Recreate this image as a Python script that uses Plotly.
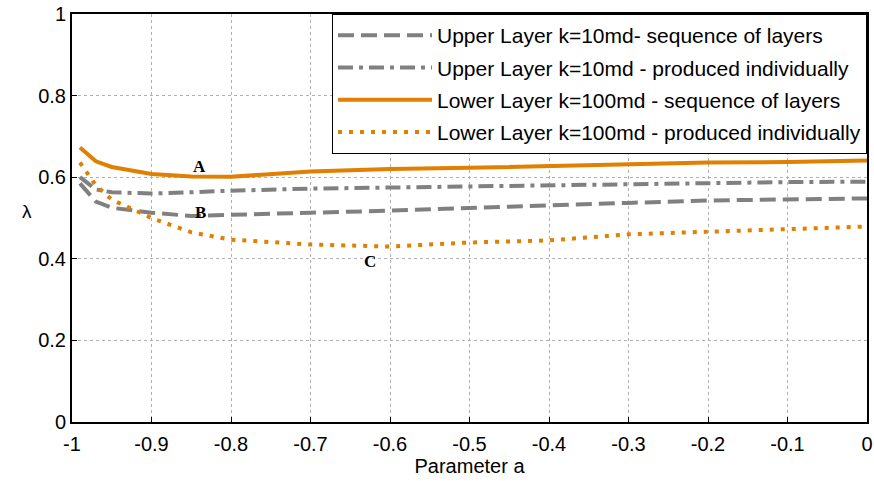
import plotly.graph_objects as go

x_vals = [-0.99, -0.97, -0.95, -0.9, -0.85, -0.8, -0.7, -0.6, -0.5, -0.4, -0.3, -0.2, -0.1, 0.0]
upper_seq = [0.585, 0.540, 0.525, 0.513, 0.505, 0.507, 0.513, 0.518, 0.525, 0.532, 0.537, 0.543, 0.546, 0.548]
upper_ind = [0.600, 0.570, 0.563, 0.560, 0.563, 0.567, 0.572, 0.575, 0.577, 0.580, 0.584, 0.587, 0.588, 0.589]
lower_seq = [0.673, 0.639, 0.625, 0.608, 0.602, 0.601, 0.614, 0.620, 0.623, 0.627, 0.632, 0.636, 0.637, 0.641]
lower_ind = [0.636, 0.580, 0.545, 0.500, 0.465, 0.447, 0.435, 0.430, 0.440, 0.445, 0.460, 0.467, 0.474, 0.479]

names = [
    "Upper Layer k=10md- sequence of layers",
    "Upper Layer k=10md - produced individually",
    "Lower Layer k=100md - sequence of layers",
    "Lower Layer k=100md - produced individually",
]
x_ticks = [-1, -0.9, -0.8, -0.7, -0.6, -0.5, -0.4, -0.3, -0.2, -0.1, 0]
x_tick_text = ["-1", "-0.9", "-0.8", "-0.7", "-0.6", "-0.5", "-0.4", "-0.3", "-0.2", "-0.1", "0"]
y_ticks = [0, 0.2, 0.4, 0.6, 0.8, 1]
y_tick_text = ["0", "0.2", "0.4", "0.6", "0.8", "1"]

labels = ["A", "B", "C"]
label_x = [-0.84, -0.838, -0.625]
label_y = [0.627, 0.513, 0.393]

gray = "#808080"
orange = "#E07F00"

fig = go.Figure()
styles = [
    dict(color=gray, width=4, dash="16px,7px"),
    dict(color=gray, width=4, dash="15px,6px,4px,6px"),
    dict(color=orange, width=4),
    dict(color=orange, width=4, dash="4px,7px"),
]
for i, (ys, nm, st) in enumerate(zip([upper_seq, upper_ind, lower_seq, lower_ind], names, styles)):
    fig.add_trace(go.Scatter(x=x_vals, y=ys, mode="lines", name=nm, line=st,
                             legendgroup="g%d" % i))

for t, lx, ly in zip(labels, label_x, label_y):
    fig.add_annotation(x=lx, y=ly, text="<b>" + t + "</b>", showarrow=False,
                       font=dict(family="Liberation Serif", size=17, color="black"))

fig.add_annotation(x=-(72 - 20) / 794, y=(422 - 212) / 407, xref="paper", yref="paper",
                   text="λ", showarrow=False,
                   font=dict(family="Liberation Sans", size=19, color="black"))

tick_font = dict(family="Liberation Sans", size=20, color="black")

fig.update_layout(
    width=874, height=481,
    margin=dict(l=72, r=7, t=14, b=59, autoexpand=False),
    paper_bgcolor="white", plot_bgcolor="white",
    font=dict(family="Liberation Sans", size=20, color="black"),
    showlegend=True,
    legend=dict(x=1, y=1, xanchor="right", yanchor="top",
                bgcolor="white", bordercolor="black", borderwidth=1,
                font=dict(size=21), tracegroupgap=2, traceorder="grouped",
                itemwidth=94),
    xaxis=dict(range=[-1, 0], tickvals=x_ticks, ticktext=x_tick_text, tickfont=tick_font,
               showgrid=True, gridcolor="#b0b0b0", griddash="dot", gridwidth=1,
               showline=True, linecolor="black", linewidth=2, mirror=True,
               ticks="inside", ticklen=5, tickcolor="black", zeroline=False,
               ticklabelstandoff=3, automargin=False,
               title=dict(text="Parameter a", standoff=5, font=dict(size=20))),
    yaxis=dict(range=[0, 1], tickvals=y_ticks, ticktext=y_tick_text, tickfont=tick_font,
               showgrid=True, gridcolor="#b0b0b0", griddash="dot", gridwidth=1,
               showline=True, linecolor="black", linewidth=2, mirror=True,
               ticks="inside", ticklen=5, tickcolor="black", zeroline=False,
               automargin=False),
)

fig.write_html("out.html")
